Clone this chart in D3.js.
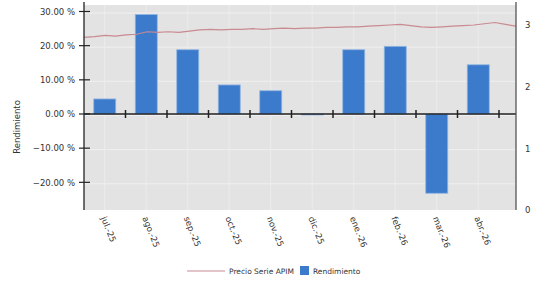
<!DOCTYPE html>
<html>
<head>
<meta charset="utf-8">
<script src="https://cdn.jsdelivr.net/npm/d3@7"></script>
<style>
  body { margin: 0; background: #fff; }
  text { font-family: "DejaVu Sans", sans-serif; fill: #333; }
</style>
</head>
<body>
<script>
// monthly categories and bar values (Rendimiento, %)
var months = ["jul.-25", "ago.-25", "sep.-25", "oct.-25", "nov.-25", "dic.-25",
              "ene.-26", "feb.-26", "mar.-26", "abr.-26"];
var rendimiento = [4.4, 29.1, 18.8, 8.5, 6.8, -0.3, 18.8, 19.8, -23.2, 14.4];

// weekly price series (right axis)
var precio = [2.80, 2.81, 2.83, 2.82, 2.84, 2.85, 2.89, 2.88, 2.89, 2.88, 2.90,
              2.92, 2.93, 2.92, 2.93, 2.93, 2.94, 2.93, 2.94, 2.95, 2.94, 2.95,
              2.95, 2.96, 2.96, 2.97, 2.97, 2.98, 2.99, 3.00, 3.01, 2.99, 2.97,
              2.96, 2.97, 2.98, 2.99, 3.00, 3.02, 3.04, 3.01, 2.98];

var leftTicks = [30, 20, 10, 0, -10, -20];
var rightTicks = [0, 1, 2, 3];

var w = 542, h = 284;
var padLeft = 84, padRight = 516, padTop = 5, padBottom = 210;

var svg = d3.select("body").append("svg")
    .attr("width", w)
    .attr("height", h);

// scales
var x = d3.scaleBand()
    .domain(months)
    .range([padLeft, padLeft + 41.5 * months.length])
    .paddingInner(0.47)
    .paddingOuter(0.235);

var xLine = d3.scaleLinear()
    .domain([0, precio.length - 1])
    .range([padLeft, padRight]);

var y = d3.scaleLinear()
    .domain([-28.1, 31.9])
    .range([padBottom, padTop]);

var y2 = d3.scaleLinear()
    .domain([0, 3.324])
    .range([padBottom, padTop]);

// end of each month band (for the small ticks on the zero line)
function bandEnd(d) {
    return x(d) + x.bandwidth() + x.step() * x.paddingInner() / 2;
}

// plot background
svg.append("rect")
   .attr("x", padLeft)
   .attr("y", padTop)
   .attr("width", padRight - padLeft)
   .attr("height", padBottom - padTop)
   .attr("fill", "#e3e3e3");

// grid
svg.append("g")
   .selectAll("line")
   .data(leftTicks)
   .enter()
   .append("line")
   .attr("x1", padLeft).attr("x2", padRight)
   .attr("y1", function(d) { return y(d) + 1.5; })
   .attr("y2", function(d) { return y(d) + 1.5; })
   .attr("stroke", "#f0f0f0")
   .attr("stroke-width", 1);

svg.append("g")
   .selectAll("line")
   .data(months)
   .enter()
   .append("line")
   .attr("x1", function(d) { return x(d) + x.bandwidth() / 2; })
   .attr("x2", function(d) { return x(d) + x.bandwidth() / 2; })
   .attr("y1", padTop).attr("y2", padBottom)
   .attr("stroke", "#ececec")
   .attr("stroke-width", 1);

// bars
svg.append("g")
   .selectAll("rect")
   .data(rendimiento)
   .enter()
   .append("rect")
   .attr("x", function(d, i) { return x(months[i]); })
   .attr("y", function(d) { return y(Math.max(0, d)); })
   .attr("width", x.bandwidth())
   .attr("height", function(d) { return Math.abs(y(d) - y(0)); })
   .attr("fill", "#3c7acb")
   .attr("stroke", "#8fb5e3")
   .attr("stroke-width", 0.8);

// price line
var line = d3.line()
    .x(function(d, i) { return xLine(i); })
    .y(function(d) { return y2(d); });

svg.append("path")
   .datum(precio)
   .attr("d", line)
   .attr("fill", "none")
   .attr("stroke", "#c98a92")
   .attr("stroke-width", 1.2);

// zero line with month boundary ticks
svg.append("line")
   .attr("x1", padLeft).attr("x2", padRight)
   .attr("y1", y(0)).attr("y2", y(0))
   .attr("stroke", "#222")
   .attr("stroke-width", 1.3);

svg.append("g")
   .selectAll("line")
   .data(months)
   .enter()
   .append("line")
   .attr("x1", bandEnd)
   .attr("x2", bandEnd)
   .attr("y1", y(0) - 4).attr("y2", y(0) + 4)
   .attr("stroke", "#222")
   .attr("stroke-width", 1.5);

// left axis
var yAxis = d3.axisLeft(y)
    .tickValues(leftTicks)
    .tickSize(0)
    .tickPadding(9)
    .tickFormat(function(d) { return d3.format(".2f")(d) + " %"; });

var gy = svg.append("g")
   .attr("transform", "translate(" + padLeft + ",0)")
   .call(yAxis);
gy.select(".domain").remove();
gy.selectAll("text").style("font-size", "8.5px").attr("fill", "#333");

svg.append("line")
   .attr("x1", padLeft).attr("x2", padLeft)
   .attr("y1", 2).attr("y2", padBottom)
   .attr("stroke", "#222").attr("stroke-width", 1.3);

svg.append("g")
   .selectAll("line")
   .data(leftTicks)
   .enter()
   .append("line")
   .attr("x1", padLeft - 5).attr("x2", padLeft + 6)
   .attr("y1", function(d) { return y(d); })
   .attr("y2", function(d) { return y(d); })
   .attr("stroke", "#222").attr("stroke-width", 1.2);

// right axis
var y2Axis = d3.axisRight(y2)
    .tickValues(rightTicks)
    .tickSize(0)
    .tickPadding(9)
    .tickFormat(d3.format("d"));

var gy2 = svg.append("g")
   .attr("transform", "translate(" + padRight + ",0)")
   .call(y2Axis);
gy2.select(".domain").remove();
gy2.selectAll("text").style("font-size", "8.5px").attr("fill", "#333");

svg.append("line")
   .attr("x1", padRight).attr("x2", padRight)
   .attr("y1", 2).attr("y2", padBottom)
   .attr("stroke", "#555").attr("stroke-width", 1.3);

// y title
svg.append("text")
   .attr("transform", "translate(20,127) rotate(-90)")
   .style("text-anchor", "middle")
   .style("font-size", "8.5px")
   .text("Rendimiento");

// x labels
svg.append("g")
   .selectAll("text")
   .data(months)
   .enter()
   .append("text")
   .attr("transform", function(d) {
       return "translate(" + (x(d) + x.bandwidth() / 2 - 4) + ",218) rotate(68)";
   })
   .style("text-anchor", "start")
   .style("font-size", "8.5px")
   .text(function(d) { return d; });

// legend
var legend = svg.append("g")
   .attr("transform", "translate(187,271)");

legend.append("line")
   .attr("x1", 0).attr("x2", 38)
   .attr("y1", 0).attr("y2", 0)
   .attr("stroke", "#c98a92")
   .attr("stroke-width", 1.2);

legend.append("text")
   .attr("x", 42).attr("y", 3)
   .style("font-size", "7.5px")
   .text("Precio Serie APIM");

legend.append("rect")
   .attr("x", 113).attr("y", -5)
   .attr("width", 9).attr("height", 9)
   .attr("fill", "#3c7acb");

legend.append("text")
   .attr("x", 126).attr("y", 3)
   .style("font-size", "7.5px")
   .text("Rendimiento");
</script>
</body>
</html>
